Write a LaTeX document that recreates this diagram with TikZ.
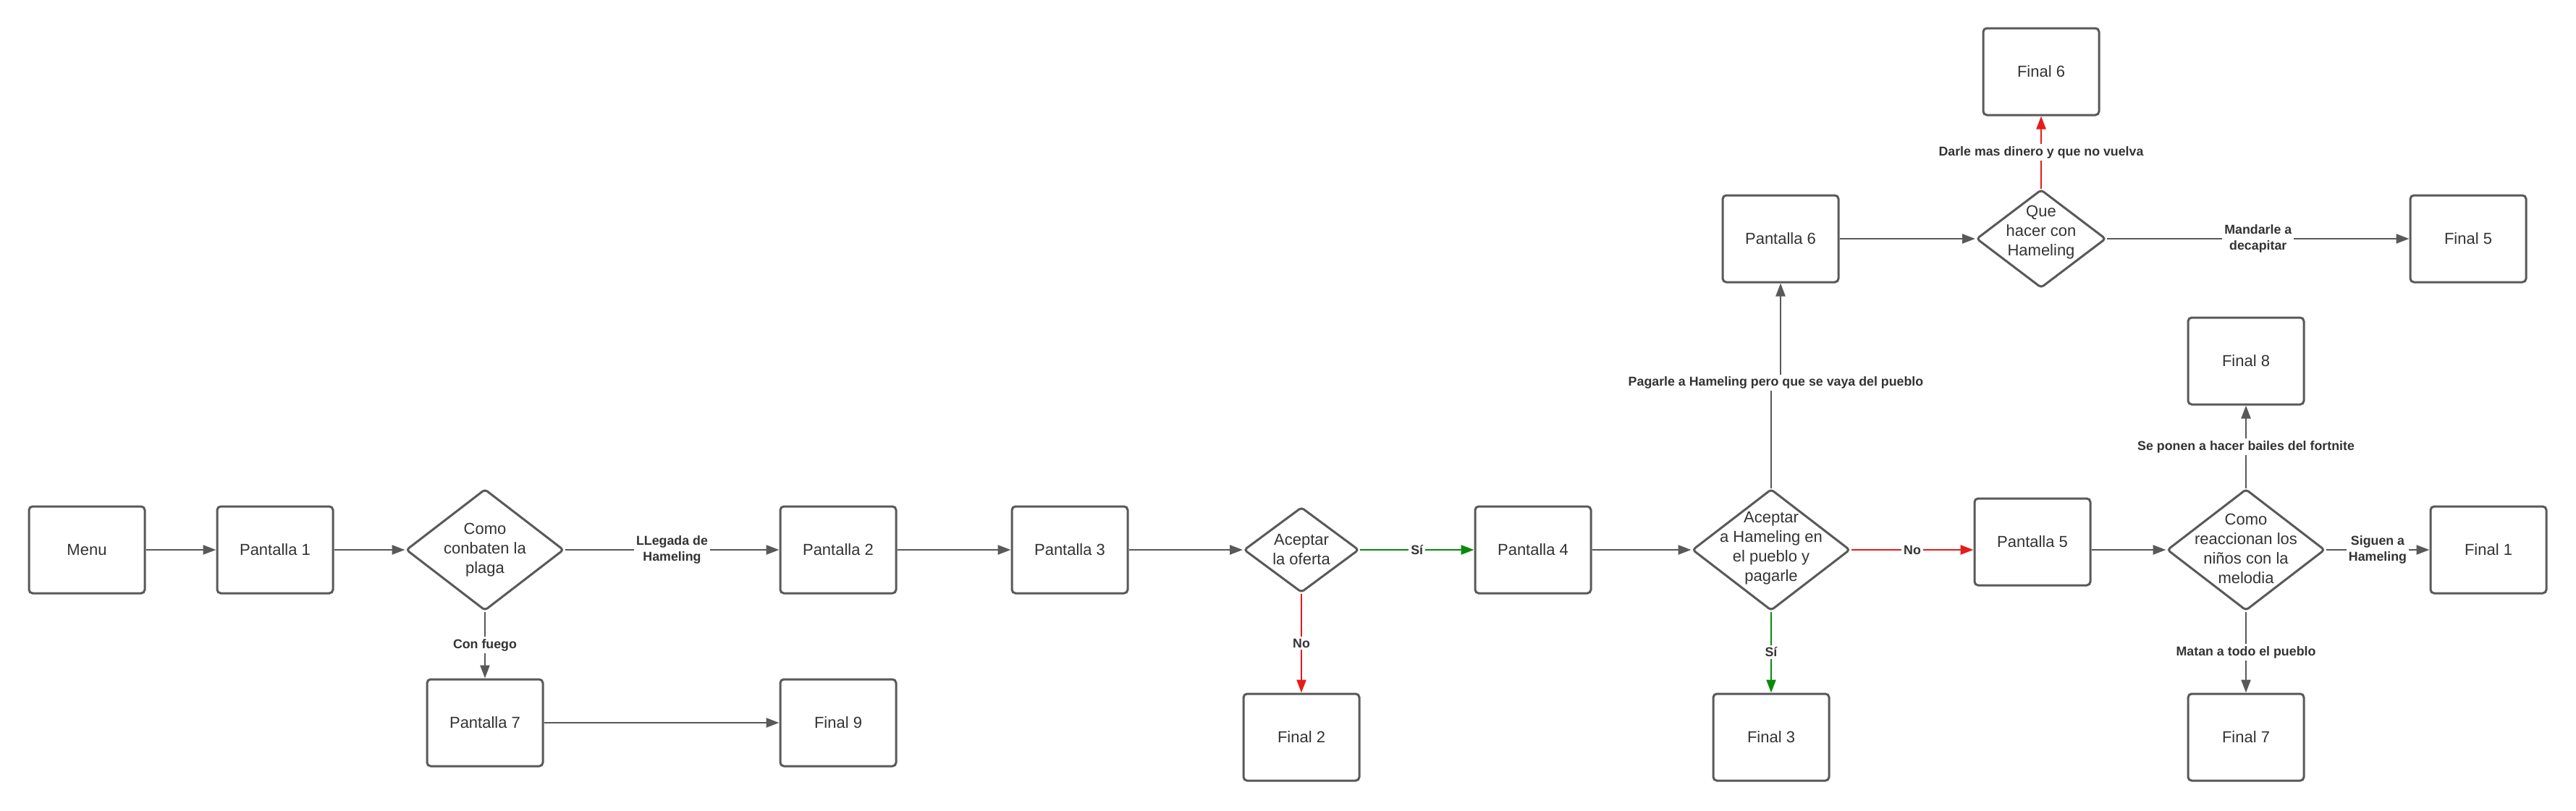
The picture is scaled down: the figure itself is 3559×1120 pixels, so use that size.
\documentclass[tikz,border=0pt]{standalone}
\usepackage{fontspec}
\setmainfont{Liberation Sans}
\usetikzlibrary{shapes.geometric,arrows.meta}
\definecolor{lineg}{HTML}{595959}
\definecolor{txt}{HTML}{333333}
\definecolor{ared}{HTML}{E81B1B}
\definecolor{agreen}{HTML}{0A8A0A}
\begin{document}
\begin{tikzpicture}[x=0.5pt,y=-0.5pt,
  box/.style={draw=lineg, line width=1.5pt, rounded corners=2.5pt, fill=white,
    minimum width=80pt, minimum height=60pt, inner sep=0pt, text=txt,
    font=\fontsize{11}{13.5}\selectfont},
  dec/.style={draw=lineg, line width=1.5pt, shape=diamond, rounded corners=2pt,
    fill=white, inner sep=0pt},
  dtext/.style={align=center, text=txt, font=\fontsize{11}{13.5}\selectfont, inner sep=0pt},
  conn/.style={draw=lineg, line width=1.25pt, -{Triangle[length=9pt,width=6.5pt]}},
  cred/.style={conn, draw=ared, -{Triangle[length=9pt,width=6.5pt,fill=ared]}},
  cgreen/.style={conn, draw=agreen, -{Triangle[length=9pt,width=6.5pt,fill=agreen]}},
  lab/.style={fill=white, text=txt, font=\bfseries\fontsize{8.9}{11.3}\selectfont,
    align=center, inner sep=1.5pt},
]
\useasboundingbox (0,0) rectangle (3559,1120);

% nodes
\node[box] (m)  at (120,760) {Menu};
\node[box] (p1) at (380,760) {Pantalla 1};
\node[dec, minimum width=109pt, minimum height=84pt,
  label={[dtext]center:Como\\conbaten la\\plaga}] (d1) at (670,760) {};
\node[box] (p2) at (1158,760) {Pantalla 2};
\node[box] (p3) at (1478,760) {Pantalla 3};
\node[dec, minimum width=79.5pt, minimum height=59pt,
  label={[dtext]center:Aceptar\\la oferta}] (d2) at (1798,760) {};
\node[box] (p4) at (2118,760) {Pantalla 4};
\node[dec, minimum width=109pt, minimum height=84pt,
  label={[dtext, yshift=1pt]center:Aceptar\\a Hameling en\\el pueblo y\\pagarle}] (d3) at (2447,760) {};
\node[box] (p5) at (2808,749) {Pantalla 5};
\node[dec, minimum width=109pt, minimum height=84pt,
  label={[dtext, yshift=1pt]center:Como\\reaccionan los\\niños con la\\melodia}] (d4) at (3103,760) {};
\node[box] (f1) at (3438,760) {Final 1};
\node[box] (f8) at (3103,499) {Final 8};
\node[box] (f7) at (3103,1019) {Final 7};
\node[box] (p6) at (2460,330) {Pantalla 6};
\node[dec, minimum width=89.5pt, minimum height=68pt,
  label={[dtext, yshift=4.5pt]center:Que\\hacer con\\Hameling}] (d5) at (2820,330) {};
\node[box] (f6) at (2820,99) {Final 6};
\node[box] (f5) at (3410,330) {Final 5};
\node[box] (f3) at (2447,1019) {Final 3};
\node[box] (f2) at (1798,1019) {Final 2};
\node[box] (p7) at (670,999) {Pantalla 7};
\node[box] (f9) at (1158,999) {Final 9};

% connectors
\draw[conn] (m) -- (p1);
\draw[conn] (p1) -- (d1);
\draw[conn] (d1) -- node[lab]{LLegada de\\Hameling} (p2);
\draw[conn] (d1) -- node[lab]{Con fuego} (p7);
\draw[conn] (p7) -- (f9);
\draw[conn] (p2) -- (p3);
\draw[conn] (p3) -- (d2);
\draw[cgreen] (d2) -- node[lab]{Sí} (p4);
\draw[cred] (d2) -- node[lab]{No} (f2);
\draw[conn] (p4) -- (d3);
\draw[cred] (d3.east) -- node[lab]{No} (d3.east -| p5.west);
\draw[cgreen] (d3) -- node[lab]{Sí} (f3);
\draw[conn] (d3.north) -- (2447,529) -- node[lab]{Pagarle a Hameling pero que se vaya del pueblo} (2460,529) -- (p6.south);
\draw[conn] (p6) -- (d5);
\draw[cred] (d5) -- node[lab]{Darle mas dinero y que no vuelva} (f6);
\draw[conn] (d5) -- node[lab]{Mandarle a\\decapitar} (f5);
\draw[conn] (p5.east |- d4.west) -- (d4.west);
\draw[conn] (d4) -- node[lab]{Se ponen a hacer bailes del fortnite} (f8);
\draw[conn] (d4) -- node[lab]{Siguen a\\Hameling} (f1);
\draw[conn] (d4) -- node[lab]{Matan a todo el pueblo} (f7);
\end{tikzpicture}
\end{document}
